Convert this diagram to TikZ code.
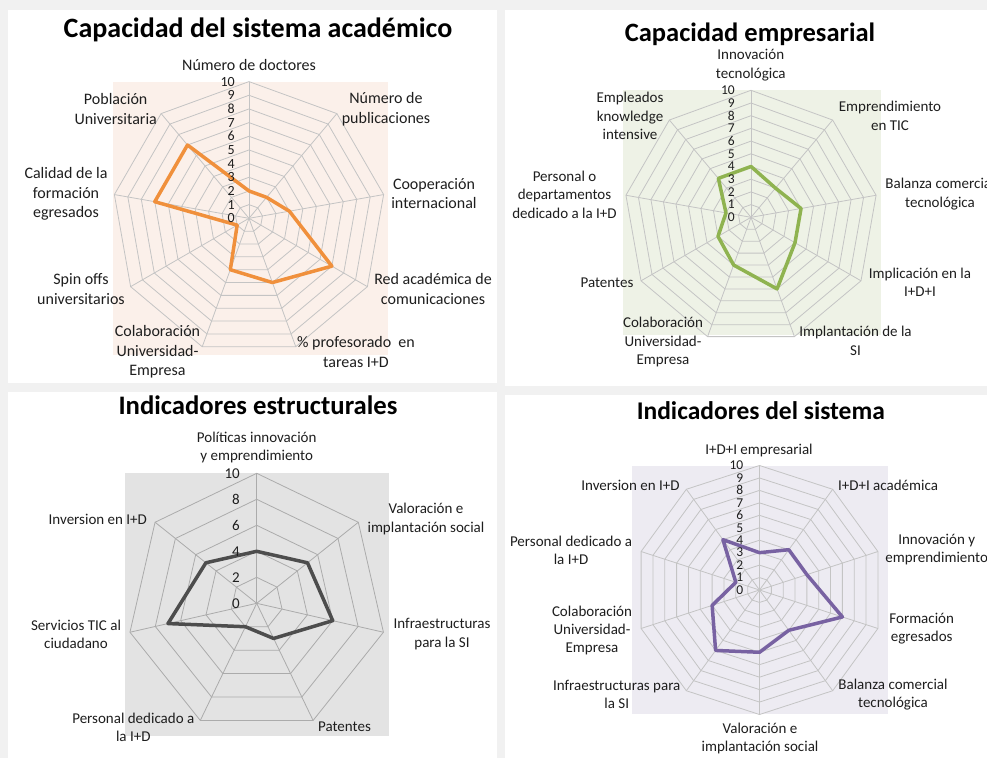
\documentclass[tikz,border=0pt]{standalone}
\usepackage{fontspec}
\setmainfont{Carlito}
\definecolor{pageback}{HTML}{F1F1F1}
\definecolor{bgA}{HTML}{FBF0EA}
\definecolor{bgB}{HTML}{EEF2E6}
\definecolor{bgC}{HTML}{E3E3E3}
\definecolor{bgD}{HTML}{EDEBF2}
\definecolor{gridlight}{HTML}{C4C4C4}
\definecolor{griddark}{HTML}{ABABAB}
\definecolor{lineA}{HTML}{F0903C}
\definecolor{lineB}{HTML}{8FB350}
\definecolor{lineC}{HTML}{4D4D4D}
\definecolor{lineD}{HTML}{7862A2}
\definecolor{labtext}{HTML}{1E1E1E}

\newcommand{\RadarGrid}[6]{%
  \foreach \j in {1,...,#5}{
    \draw[#6] ({#1},{#2-#3*\j/#5}) \foreach \k in {1,...,#4}{ -- ({#1+#3*\j/#5*cos(90-\k*360/#4)},{#2-#3*\j/#5*sin(90-\k*360/#4)}) } -- cycle;
  }
  \foreach \k in {1,...,#4}{
    \draw[#6] (#1,#2) -- ({#1+#3*cos(90-\k*360/#4)},{#2-#3*sin(90-\k*360/#4)});
  }
}
\newcommand{\RadarData}[8]{%
  \foreach \v [count=\k from 0] in {#7}{
    \coordinate (#1\k) at ({#2+#4*\v/#6*cos(90-\k*360/#5)},{#3-#4*\v/#6*sin(90-\k*360/#5)});
  }
  \pgfmathtruncatemacro{\lastidx}{#5-1}
  \draw[#8] (#10) \foreach \k in {1,...,\lastidx}{ -- (#1\k) } -- cycle;
}
\newcommand{\RadarTicks}[8]{%
  \foreach \j in {0,...,#5}{
    \pgfmathtruncatemacro{\lab}{\j*#6}
    \node[tick,#8,anchor=east] (#1t\j) at ({#2-#7},{#3-#4*\j/#5}) {\lab};
  }
}

\begin{document}
\begin{tikzpicture}[x=1pt,y=-1pt,
  gridA/.style={draw=gridlight,line width=0.8pt},
  gridC/.style={draw=griddark,line width=0.8pt},
  dataline/.style={line width=3.5pt,line join=round},
  tick/.style={inner sep=0pt,text=labtext},
  title/.style={inner sep=0pt,anchor=base,text=black},
  labA/.style={align=center,inner sep=0pt,text=labtext,font=\fontsize{16}{19.5}\selectfont},
  labB/.style={align=center,inner sep=0pt,text=labtext,font=\fontsize{15}{18.5}\selectfont},
  labC/.style={align=center,inner sep=0pt,text=labtext,font=\fontsize{15}{18.3}\selectfont},
  labD/.style={align=center,inner sep=0pt,text=labtext,font=\fontsize{15}{18}\selectfont}]
\useasboundingbox (0,0) rectangle (987,758);
\fill[pageback] (0,0) rectangle (987,758);
% panels
\fill[white] (8,10) rectangle (497,383);
\fill[white] (505,10) rectangle (987,386);
\fill[white] (8,392) rectangle (497,758);
\fill[white] (505,395) rectangle (987,758);

% ---------- Chart A ----------
\fill[bgA] (113,82) rectangle (388,355);
\RadarGrid{249}{218.3}{136.7}{9}{10}{gridA}
\RadarData{A}{249}{218.3}{136.7}{9}{10}{2,2,3,7,5,4,1,7,7}{dataline,draw=lineA}
\RadarTicks{A}{249}{218.3}{136.7}{10}{1}{14}{font=\fontsize{14}{14}\selectfont}
\node[title,font=\bfseries\fontsize{28}{32}\selectfont] (a-title) at (258,37.7) {Capacidad del sistema académico};
\node[labA] (a-doc) at (249,65) {Número de doctores};
\node[labA] (a-pub) at (386,109) {Número de\\publicaciones};
\node[labA] (a-coop) at (434,193.5) {Cooperación\\internacional};
\node[labA] (a-red) at (433,289) {Red académica de\\comunicaciones};
\node[labA] (a-prof) at (356,352) {\% profesorado\ \ en\\tareas I+D};
\node[labA] (a-col) at (157.5,352) {Colaboración\\Universidad-\\Empresa};
\node[labA] (a-spin) at (81,289) {Spin offs\\universitarios};
\node[labA] (a-cal) at (66,194) {Calidad de la\\formación\\egresados};
\node[labA] (a-pob) at (115.7,109) {Población\\Universitaria};

% ---------- Chart B ----------
\fill[bgB] (623.3,90) rectangle (880.7,335);
\RadarGrid{751}{217.3}{127}{9}{10}{gridA}
\RadarData{B}{751}{217.3}{127}{9}{10}{4,3,4,4,6,4,3,2,4}{dataline,draw=lineB}
\RadarTicks{B}{751}{217.3}{127}{10}{1}{16}{font=\fontsize{13.5}{13.5}\selectfont}
\node[title,font=\bfseries\fontsize{26.5}{30}\selectfont] (b-title) at (750,41) {Capacidad empresarial};
\node[labB] (b-inn) at (750.8,65) {Innovación\\tecnológica};
\node[labB] (b-emp) at (890,116) {Emprendimiento\\en TIC};
\node[labB] (b-bal) at (940,194) {Balanza comercial\\tecnológica};
\node[labB] (b-imp) at (920,282.5) {Implicación en la\\I+D+I};
\node[labB] (b-impl) at (855.5,341) {Implantación de la\\SI};
\node[labB] (b-col) at (663,342) {Colaboración\\Universidad-\\Empresa};
\node[labB] (b-pat) at (607,283) {Patentes};
\node[labB] (b-per) at (564.5,194.5) {Personal o\\departamentos\\dedicado a la I+D};
\node[labB] (b-empl) at (630,116) {Empleados\\knowledge\\intensive};

% ---------- Chart C ----------
\fill[bgC] (125,473.3) rectangle (389.3,735.7);
\RadarGrid{256.7}{603.3}{130}{7}{5}{gridC}
\RadarData{C}{256.7}{603.3}{130}{7}{10}{4,5,6,3,2,7,5}{dataline,draw=lineC}
\RadarTicks{C}{256.7}{603.3}{130}{5}{2}{16.7}{font=\fontsize{15}{15}\selectfont}
\node[title,font=\bfseries\fontsize{26.7}{30}\selectfont] (c-title) at (258,414.3) {Indicadores estructurales};
\node[labC] (c-pol) at (256.7,447.5) {Políticas innovación\\y emprendimiento};
\node[labC] (c-val) at (426,519) {Valoración e\\implantación social};
\node[labC] (c-inf) at (442,634) {Infraestructuras\\para la SI};
\node[labC] (c-pat) at (344.5,726.7) {Patentes};
\node[labC] (c-per) at (133.3,727) {Personal dedicado a\\la I+D};
\node[labC] (c-ser) at (76,634) {Servicios TIC al\\ciudadano};
\node[labC] (c-inv) at (97.8,519.3) {Inversion en I+D};

% ---------- Chart D ----------
\fill[bgD] (631.7,465.7) rectangle (888.3,714.3);
\RadarGrid{759.5}{590}{124.5}{10}{10}{gridA}
\RadarData{D}{759.5}{590}{124.5}{10}{10}{3,4,4,7,4,5,6,4,2,5}{dataline,draw=lineD}
\RadarTicks{D}{759.5}{590}{124.5}{10}{1}{16}{font=\fontsize{13.5}{13.5}\selectfont}
\node[title,font=\bfseries\fontsize{25.5}{30}\selectfont] (d-title) at (760.8,419.3) {Indicadores del sistema};
\node[labD] (d-emp) at (759,450) {I+D+I empresarial};
\node[labD] (d-aca) at (888,485) {I+D+I académica};
\node[labD] (d-inn) at (936.7,550) {Innovación y\\emprendimiento};
\node[labD] (d-for) at (921.7,629) {Formación\\egresados};
\node[labD] (d-bal) at (893,694.7) {Balanza comercial\\tecnológica};
\node[labD] (d-val) at (760,738) {Valoración e\\implantación social};
\node[labD] (d-inf) at (616.7,694.7) {Infraestructuras para\\la SI};
\node[labD] (d-col) at (592,630) {Colaboración\\Universidad-\\Empresa};
\node[labD] (d-per) at (571,550) {Personal dedicado a\\la I+D};
\node[labD] (d-inv) at (630.5,485) {Inversion en I+D};
\end{tikzpicture}
\end{document}
